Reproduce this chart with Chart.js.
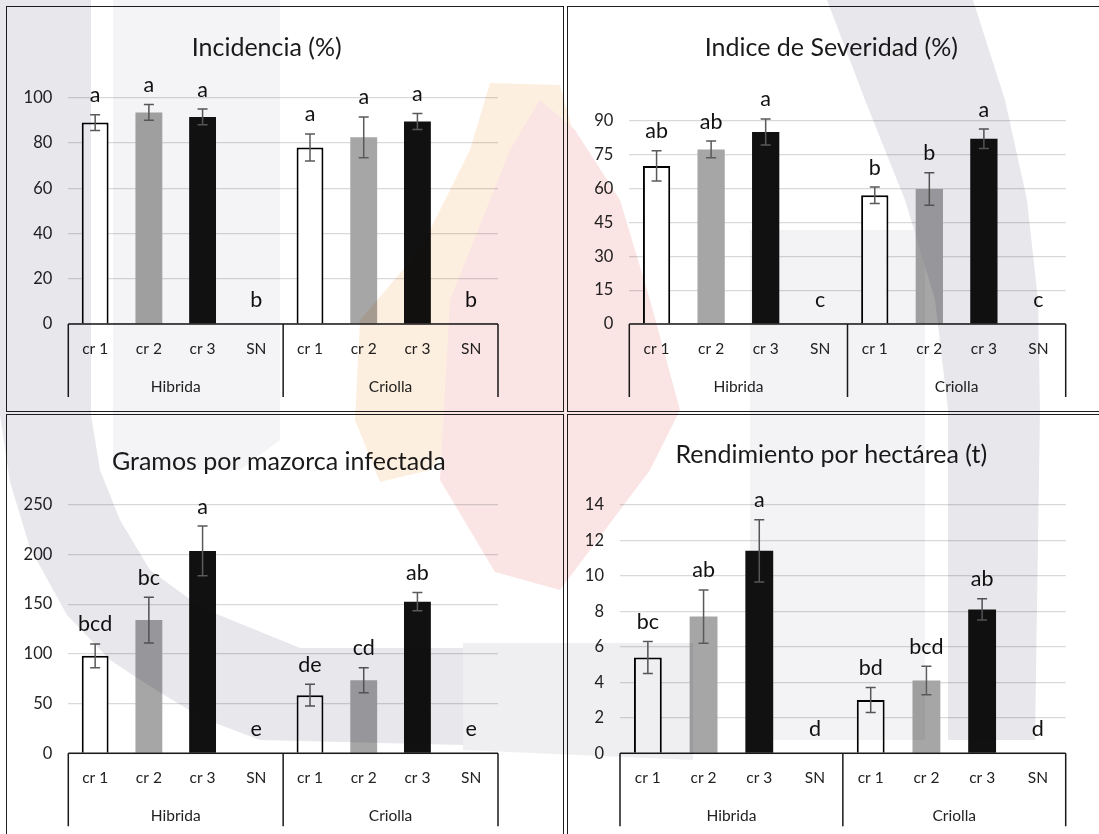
<!DOCTYPE html>
<html><head><meta charset="utf-8">
<script src="https://cdn.jsdelivr.net/npm/chart.js@4.4.1/dist/chart.umd.min.js"></script>
<style>
html,body{margin:0;padding:0;background:#fff;width:1099px;height:834px;overflow:hidden;position:relative}
.cv{position:absolute}
.bd{position:absolute;border:1.5px solid #1e1e1e;box-sizing:border-box;pointer-events:none}
#wm{position:absolute;left:0;top:0;mix-blend-mode:multiply;pointer-events:none}
</style></head><body>
<canvas id="c1" class="cv" style="left:7px;top:7px;width:556px;height:404px" width="556" height="404"></canvas>
<canvas id="c2" class="cv" style="left:568px;top:7px;width:531px;height:404px" width="531" height="404"></canvas>
<canvas id="c3" class="cv" style="left:7px;top:415px;width:556px;height:419px" width="556" height="419"></canvas>
<canvas id="c4" class="cv" style="left:568px;top:415px;width:531px;height:419px" width="531" height="419"></canvas>
<div class="bd" style="left:6px;top:6px;width:558px;height:406px"></div>
<div class="bd" style="left:567px;top:6px;width:540px;height:406px"></div>
<div class="bd" style="left:6px;top:414px;width:558px;height:440px"></div>
<div class="bd" style="left:567px;top:414px;width:540px;height:440px"></div>
<canvas id="wm" width="1099" height="834"></canvas>
<script>
// ---- data ----
const categories = ['cr 1','cr 2','cr 3','SN','cr 1','cr 2','cr 3','SN'];
const groups = ['Hibrida','Criolla'];

const incidenciaTitle = 'Incidencia (%)';
const incidenciaValues = [89, 93.5, 91.5, 0, 78, 82.5, 89.5, 0];
const incidenciaErrors = [3.5, 3.5, 3.5, null, 6, 9, 3.5, null];
const incidenciaLetters = ['a','a','a','b','a','a','a','b'];
const incidenciaTicks = [0, 20, 40, 60, 80, 100];

const severidadTitle = 'Indice de Severidad (%)';
const severidadValues = [70, 77.3, 85, 0, 57, 59.8, 82, 0];
const severidadErrors = [6.7, 3.7, 5.8, null, 3.6, 7.2, 4.3, null];
const severidadLetters = ['ab','ab','a','c','b','b','a','c'];
const severidadTicks = [0, 15, 30, 45, 60, 75, 90];

const gramosTitle = 'Gramos por mazorca infectada';
const gramosValues = [98, 134, 203.5, 0, 58.5, 73.5, 152.5, 0];
const gramosErrors = [12, 23, 25, null, 11, 12.5, 9.2, null];
const gramosLetters = ['bcd','bc','a','e','de','cd','ab','e'];
const gramosTicks = [0, 50, 100, 150, 200, 250];

const rendimientoTitle = 'Rendimiento por hectárea (t)';
const rendimientoValues = [5.4, 7.7, 11.4, 0, 3.0, 4.1, 8.1, 0];
const rendimientoErrors = [0.9, 1.5, 1.75, null, 0.7, 0.8, 0.6, null];
const rendimientoLetters = ['bc','ab','a','d','bd','bcd','ab','d'];
const rendimientoTicks = [0, 2, 4, 6, 8, 10, 12, 14];

// ---- style ----
const FONT = 'Lato, Carlito, Calibri, sans-serif';
const barFill = ['#ffffff','#a6a6a6','#111111','#ffffff','#ffffff','#a6a6a6','#111111','#ffffff'];
const barBorderW = [2,0,0,0,2,0,0,0];

const decor = {
  id: 'decor',
  afterDatasetsDraw(chart, args, o) {
    const ctx = chart.ctx, xs = chart.scales.x, ys = chart.scales.y;
    const vals = chart.data.datasets[0].data;
    ctx.save();
    ctx.strokeStyle = '#5a5a5a'; ctx.lineWidth = 1.5;
    o.errors.forEach((e, i) => {
      if (e == null) return;
      const px = xs.getPixelForValue(i);
      const t = ys.getPixelForValue(vals[i] + e), b = ys.getPixelForValue(vals[i] - e);
      ctx.beginPath();
      ctx.moveTo(px, t); ctx.lineTo(px, b);
      ctx.moveTo(px - 5, t); ctx.lineTo(px + 5, t);
      ctx.moveTo(px - 5, b); ctx.lineTo(px + 5, b);
      ctx.stroke();
    });
    ctx.fillStyle = '#111'; ctx.font = '21.5px ' + FONT;
    ctx.textAlign = 'center'; ctx.textBaseline = 'alphabetic';
    o.letters.forEach((l, i) => {
      const px = xs.getPixelForValue(i);
      const top = ys.getPixelForValue(vals[i] + (o.errors[i] || 0));
      ctx.fillText(l, px, top - (o.errors[i] ? 12.5 : 17));
    });
    ctx.restore();
  },
  afterDraw(chart, args, o) {
    const ctx = chart.ctx, xs = chart.scales.x, ys = chart.scales.y;
    ctx.save();
    ctx.fillStyle = '#1a1a1a'; ctx.font = '25px ' + FONT;
    ctx.textAlign = 'center'; ctx.textBaseline = 'middle';
    ctx.fillText(o.title, o.titleX, o.titleY);
    const y0 = ys.getPixelForValue(0);
    const n = chart.data.labels.length;
    const w = xs.getPixelForValue(1) - xs.getPixelForValue(0);
    const edge = i => xs.getPixelForValue(0) - w / 2 + i * w;
    ctx.strokeStyle = '#1a1a1a'; ctx.lineWidth = 1.5;
    ctx.beginPath(); ctx.moveTo(edge(0), y0); ctx.lineTo(edge(n), y0);
    const per = n / groups.length;
    for (let g = 0; g <= groups.length; g++) {
      ctx.moveTo(edge(g * per), y0); ctx.lineTo(edge(g * per), y0 + 73);
    }
    ctx.stroke();
    ctx.fillStyle = '#222'; ctx.font = '15.5px ' + FONT;
    groups.forEach((gname, g) => {
      ctx.fillText(gname, (edge(g * per) + edge((g + 1) * per)) / 2, y0 + 62.5);
    });
    ctx.restore();
  }
};

function makeChart(id, title, values, errors, letters, ticks, area, titlePos) {
  const cv = document.getElementById(id);
  const W = cv.width, H = cv.height;
  return new Chart(cv, {
    type: 'bar',
    data: {
      labels: categories,
      datasets: [{
        data: values,
        backgroundColor: barFill,
        borderColor: '#000',
        borderWidth: barBorderW,
        borderSkipped: 'start',
        categoryPercentage: 1,
        barPercentage: 0.5
      }]
    },
    options: {
      responsive: false,
      animation: false,
      devicePixelRatio: 1,
      layout: { padding: { left: 0, top: area.top, right: W - area.right, bottom: 0 } },
      plugins: {
        legend: { display: false },
        tooltip: { enabled: false },
        title: { display: false },
        decor: { title, titleX: titlePos[0], titleY: titlePos[1], errors, letters }
      },
      scales: {
        x: {
          grid: { display: false, drawTicks: false },
          border: { display: false },
          ticks: { color: '#222', font: { family: FONT, size: 15.5 }, padding: 15.5, maxRotation: 0, autoSkip: false },
          afterFit(s) { s.height = H - area.bottom; }
        },
        y: {
          min: ticks[0], max: ticks[ticks.length - 1],
          afterBuildTicks(s) { s.ticks = ticks.map(v => ({ value: v })); },
          grid: { color: '#d9d9d9', lineWidth: 1.2, drawTicks: false },
          border: { display: false },
          ticks: { color: '#222', font: { family: FONT, size: 16.5 }, padding: 16 },
          afterFit(s) { s.width = area.left; }
        }
      }
    },
    plugins: [decor]
  });
}

makeChart('c1', incidenciaTitle, incidenciaValues, incidenciaErrors, incidenciaLetters, incidenciaTicks,
  { left: 61.3, right: 491, top: 90.7, bottom: 317 }, [259.7, 41]);
makeChart('c2', severidadTitle, severidadValues, severidadErrors, severidadLetters, severidadTicks,
  { left: 61.3, right: 497.7, top: 113.7, bottom: 317 }, [263.3, 41]);
makeChart('c3', gramosTitle, gramosValues, gramosErrors, gramosLetters, gramosTicks,
  { left: 61.3, right: 491, top: 89.7, bottom: 338.3 }, [271.8, 46.7]);
makeChart('c4', rendimientoTitle, rendimientoValues, rendimientoErrors, rendimientoLetters, rendimientoTicks,
  { left: 52, right: 497.7, top: 89.7, bottom: 338.3 }, [263.3, 40]);

// ---- faint background watermark (decoration only) ----
(function () {
  const c = document.getElementById('wm').getContext('2d');
  function poly(pts, col) {
    c.fillStyle = col; c.beginPath();
    pts.forEach((p, i) => i ? c.lineTo(p[0], p[1]) : c.moveTo(p[0], p[1]));
    c.closePath(); c.fill();
  }
  // light gray bands
  poly([[113,0],[280,0],[280,440],[240,470],[113,470]], '#f4f4f6');
  poly([[750,230],[925,230],[925,740],[750,740]], '#f3f3f5');
  poly([[463,643],[693,643],[693,760],[463,750]], '#efeff2');
  // gray ring parts
  poly([[0,0],[91,0],[91,415],[100,470],[120,520],[150,570],[202,608],[300,648],[463,648],[463,745],
        [260,740],[202,718],[148,685],[110,660],[67,615],[30,548],[10,482],[0,415]], '#e8e7ec');
  poly([[827,0],[973,0],[1005,100],[1027,200],[1038,300],[1040,410],[1035,740],[948,740],[948,410],[935,300],[905,200],[865,100]], '#e8e7ec');
  // flame
  poly([[490,83],[560,85],[578,150],[570,250],[520,350],[430,470],[380,482],[355,420],[360,320],[420,250],[470,150]], '#fdefdf');
  poly([[540,100],[575,130],[620,200],[650,300],[680,410],[650,470],[620,510],[560,590],[495,572],[440,480],[450,300],[510,150]], '#fae4e4');
})();
</script>
</body></html>
